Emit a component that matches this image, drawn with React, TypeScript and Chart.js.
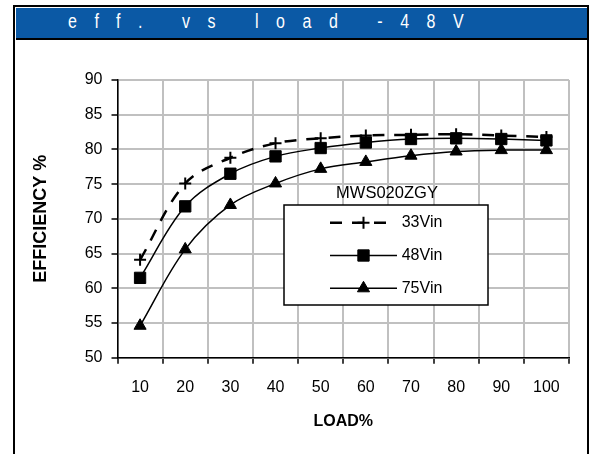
import React, { useEffect, useRef } from 'react';
import { Chart, registerables } from 'chart.js';
import { drawPoint } from 'chart.js/helpers';

Chart.register(...registerables);

const CATEGORIES = ['10', '20', '30', '40', '50', '60', '70', '80', '90', '100'];
const VIN33 = [64.1, 75.1, 78.8, 80.9, 81.6, 82.0, 82.1, 82.2, 82.0, 81.8];
const VIN48 = [61.5, 71.8, 76.5, 79.0, 80.2, 81.0, 81.5, 81.6, 81.5, 81.3];
const VIN75 = [54.6, 65.6, 72.0, 75.1, 77.2, 78.2, 79.1, 79.7, 79.9, 79.9];
const SERIES_LABELS = ['33Vin', '48Vin', '75Vin'];
const Y_MIN = 50;
const Y_MAX = 90;
const Y_STEP = 5;
const TITLE = 'eff. vs load -48V';
const LEGEND_TITLE = 'MWS020ZGY';
const X_TITLE = 'LOAD%';
const Y_TITLE = 'EFFICIENCY %';

const FONT = '"Liberation Sans", Arial, sans-serif';

const boxLegend = {
  id: 'boxLegend',
  afterDraw(chart: any) {
    const ctx: CanvasRenderingContext2D = chart.ctx;
    const x0 = 268, y0 = 164, w = 204, h = 100;
    ctx.save();
    ctx.fillStyle = '#fff';
    ctx.fillRect(x0, y0, w, h);
    ctx.strokeStyle = '#000';
    ctx.lineWidth = 1.5;
    ctx.setLineDash([]);
    ctx.strokeRect(x0, y0, w, h);
    ctx.fillStyle = '#000';
    ctx.font = `16.5px ${FONT}`;
    ctx.textAlign = 'center';
    ctx.textBaseline = 'middle';
    ctx.fillText(LEGEND_TITLE, 371, 152);
    chart.data.datasets.forEach((ds: any, i: number) => {
      const y = 181.7 + i * 32.8;
      const dashed = ds.borderDash && ds.borderDash.length;
      ctx.beginPath();
      ctx.setLineDash(ds.borderDash || []);
      ctx.lineWidth = ds.borderWidth;
      ctx.strokeStyle = ds.borderColor;
      ctx.moveTo(314, y);
      ctx.lineTo(dashed ? 376 : 381, y);
      ctx.stroke();
      ctx.setLineDash([]);
      ctx.fillStyle = ds.pointBackgroundColor;
      ctx.strokeStyle = ds.pointBorderColor;
      ctx.lineWidth = ds.pointBorderWidth;
      drawPoint(ctx, { pointStyle: ds.pointStyle, radius: ds.pointRadius, rotation: 0, borderWidth: ds.pointBorderWidth } as any, 347.5, y);
      ctx.fillStyle = '#000';
      ctx.font = `16px ${FONT}`;
      ctx.textAlign = 'left';
      ctx.textBaseline = 'middle';
      ctx.fillText(ds.label, 385.7, y);
    });
    ctx.restore();
  },
};

export default function App() {
  const ref = useRef<HTMLCanvasElement>(null);
  useEffect(() => {
    Chart.defaults.font.family = FONT;
    const gridCommon = {
      offset: true,
      color: '#c0c0c0',
      lineWidth: 2,
      tickLength: 6,
      tickColor: '#000',
      tickWidth: 1.5,
    };
    const chart = new Chart(ref.current as HTMLCanvasElement, {
      type: 'line',
      data: {
        labels: CATEGORIES,
        datasets: [
          {
            label: SERIES_LABELS[0],
            data: VIN33,
            borderColor: '#000',
            borderWidth: 2.5,
            borderDash: [12, 10],
            pointStyle: 'cross',
            pointRadius: 6,
            pointBorderWidth: 2,
            pointBackgroundColor: '#000',
            pointBorderColor: '#000',
            tension: 0.35,
            fill: false,
            order: 2,
          },
          {
            label: SERIES_LABELS[1],
            data: VIN48,
            borderColor: '#000',
            borderWidth: 1.5,
            pointStyle: 'rect',
            pointRadius: 8,
            pointBorderWidth: 1,
            pointBackgroundColor: '#000',
            pointBorderColor: '#000',
            tension: 0.35,
            fill: false,
            order: 1,
          },
          {
            label: SERIES_LABELS[2],
            data: VIN75,
            borderColor: '#000',
            borderWidth: 1.5,
            pointStyle: 'triangle',
            pointRadius: 7,
            pointBorderWidth: 1,
            pointBackgroundColor: '#000',
            pointBorderColor: '#000',
            tension: 0.35,
            fill: false,
            order: 0,
          },
        ] as any,
      },
      options: {
        animation: false,
        responsive: false,
        maintainAspectRatio: false,
        layout: { padding: { left: 0, top: 39, right: 16, bottom: 0 } },
        plugins: { legend: { display: false }, tooltip: { enabled: false }, title: { display: false } },
        scales: {
          x: {
            type: 'category',
            offset: true,
            grid: gridCommon,
            border: { color: '#000', width: 1.5 },
            ticks: { color: '#000', font: { size: 16 }, padding: 14, maxRotation: 0, autoSkip: false },
            title: { display: true, text: X_TITLE, color: '#000', font: { size: 16, weight: 'bold' }, padding: { top: 0, bottom: 22.7 } },
            afterFit: (s: any) => { s.height = 96.3; s.paddingLeft = 0; s.paddingRight = 0; },
          },
          y: {
            min: Y_MIN,
            max: Y_MAX,
            grid: { ...gridCommon, offset: false },
            border: { color: '#000', width: 1.5 },
            ticks: { stepSize: Y_STEP, color: '#000', font: { size: 16 }, padding: 9 },
            title: { display: true, text: Y_TITLE, color: '#000', font: { size: 18, weight: 'bold' }, padding: { top: 14.2, bottom: 0 } },
            afterFit: (s: any) => { s.width = 101.5; s.paddingTop = 0; s.paddingBottom = 0; },
          },
        } as any,
      },
      plugins: [boxLegend],
    });
    return () => chart.destroy();
  }, []);

  return (
    <div style={{ position: 'fixed', left: 0, top: 0, width: 592, height: 454, background: '#fff', overflow: 'hidden' }}>
      <div style={{ position: 'absolute', left: 13, top: 5, width: 576, height: 470, border: '2.5px solid #000', boxSizing: 'border-box' }} />
      <div style={{ position: 'absolute', left: 15.5, top: 7.5, width: 571, height: 30.8, background: '#0b59a5', borderBottom: '2.5px solid #000' }} />
      <div
        style={{
          position: 'absolute',
          left: 67.6,
          top: 10.5,
          fontSize: 20,
          lineHeight: '20px',
          color: '#fff',
          letterSpacing: '21.9px',
          whiteSpace: 'pre',
          fontFamily: FONT,
          transform: 'scaleX(0.8)',
          transformOrigin: '0 0',
        }}
      >
        {TITLE}
      </div>
      <canvas ref={ref} width={569} height={413} style={{ position: 'absolute', left: 16, top: 41, width: 569, height: 413 }} />
    </div>
  );
}
